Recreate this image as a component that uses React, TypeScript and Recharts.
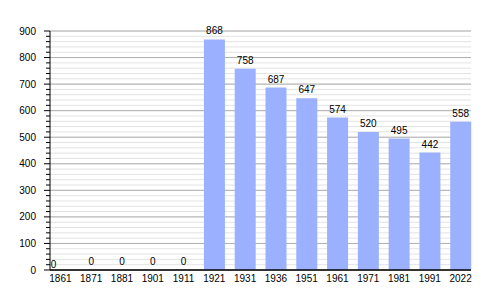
import React from 'react';
import { BarChart, Bar, XAxis, YAxis, CartesianGrid, LabelList } from 'recharts';

const years = ['1861', '1871', '1881', '1901', '1911', '1921', '1931', '1936', '1951', '1961', '1971', '1981', '1991', '2022'];
const population = [0, 0, 0, 0, 0, 868, 758, 687, 647, 574, 520, 495, 442, 558];

const majorTicks = [0, 100, 200, 300, 400, 500, 600, 700, 800, 900];
const allTicks: number[] = [];
for (let v = 0; v <= 900; v += 20) allTicks.push(v);

const font = '"Liberation Sans", Arial, sans-serif';

const chartData = years.map((year, i) => ({ year, value: population[i] }));

function YTick(props: any) {
    const { x, y, payload } = props;
    const isMajor = payload.value % 100 === 0;
    const axisX = x + 8;
    return (
        <g>
            <line x1={axisX - (isMajor ? 6 : 4)} x2={axisX} y1={y} y2={y} stroke="#000" strokeWidth={1} />
            {isMajor && (
                <text x={axisX - 14} y={y} dy="0.355em" textAnchor="end" fontSize={10} fontFamily={font} fill="#000">
                    {payload.value}
                </text>
            )}
        </g>
    );
}

function BarLabel(props: any) {
    const { x, y, width, value, index } = props;
    const first = index === 0;
    return (
        <text
            x={x + width / 2 + (first ? -7 : 0)}
            y={y - 5 + (first ? 3 : 0)}
            textAnchor="middle"
            fontSize={10}
            fontFamily={font}
            fill="#000"
        >
            {value}
        </text>
    );
}

export default function App() {
    return (
        <div style={{ position: 'absolute', left: 0, top: 0, background: '#fff' }}>
            <BarChart
                width={500}
                height={300}
                data={chartData}
                margin={{ top: 31, right: 29, bottom: 0, left: 0 }}
                barSize={21}
            >
                <CartesianGrid vertical={false} stroke="#e3e3e3" horizontalValues={allTicks} />
                <CartesianGrid vertical={false} stroke="#b0b0b0" horizontalValues={majorTicks} />
                <XAxis
                    dataKey="year"
                    padding={{ left: -5, right: -5 }}
                    tickLine={false}
                    tickSize={5}
                    tickMargin={0}
                    axisLine={{ stroke: '#000', strokeWidth: 1.5 }}
                    tick={{ fontSize: 10, fontFamily: font, fill: '#000' }}
                    interval={0}
                />
                <YAxis
                    width={50}
                    domain={[0, 900]}
                    ticks={allTicks}
                    interval={0}
                    tickLine={false}
                    axisLine={{ stroke: '#000', strokeWidth: 1 }}
                    tick={<YTick />}
                />
                <Bar
                    dataKey="value"
                    fill="#9bb1ff"
                    isAnimationActive={false}
                    minPointSize={(v: number) => (v === 0 ? 0.01 : 0)}
                >
                    <LabelList dataKey="value" content={<BarLabel />} />
                </Bar>
            </BarChart>
        </div>
    );
}
